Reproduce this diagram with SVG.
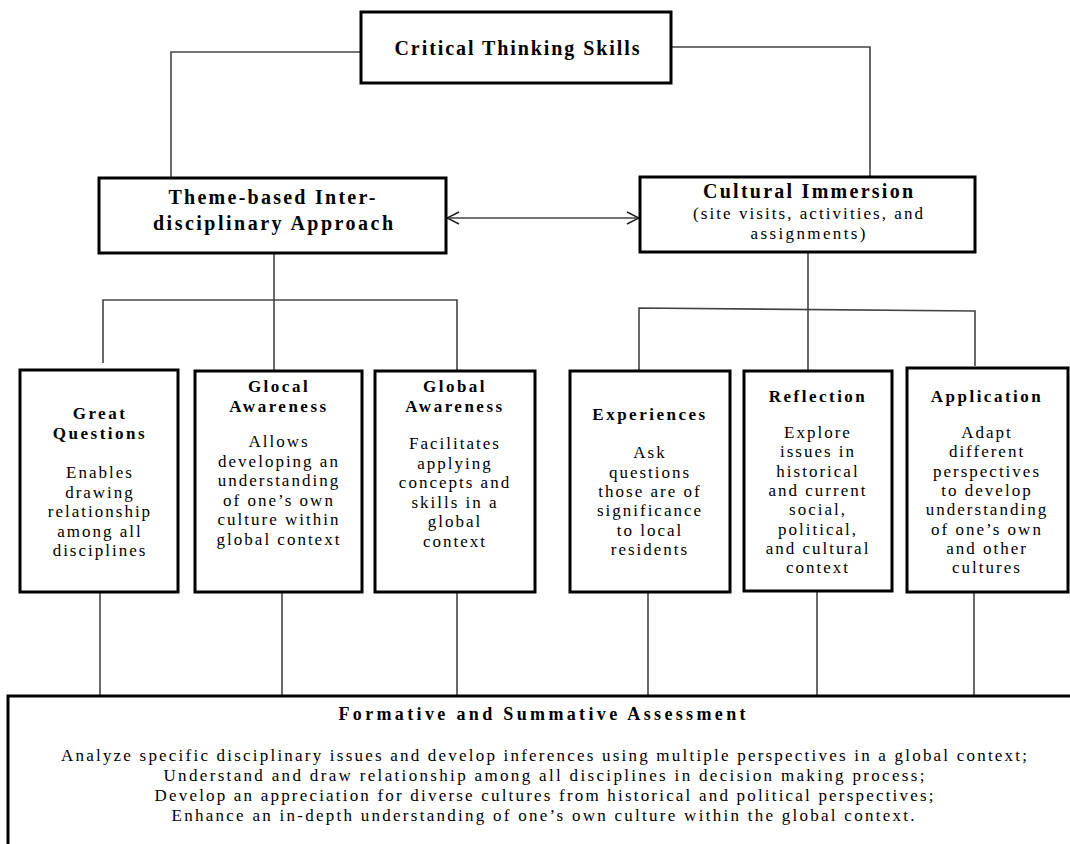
<svg xmlns="http://www.w3.org/2000/svg" width="1070" height="844" viewBox="0 0 1070 844">
<style>
.box{fill:#fff;stroke:#000;stroke-width:3}
.ln{fill:none;stroke:#444;stroke-width:1.6}
text{font-family:"Liberation Serif","Times New Roman",serif;fill:#000;text-anchor:middle}
.t{font-size:20px;font-weight:bold}
.h{font-size:17px;font-weight:bold;letter-spacing:2.5px}
.b{font-size:17px;letter-spacing:2px}
.s{font-size:17px}
</style>
<defs>
<marker id="ah" viewBox="0 0 14 14" refX="13" refY="7" markerWidth="14" markerHeight="14" markerUnits="userSpaceOnUse" orient="auto-start-reverse">
<path d="M1,1 L13,7 L1,13" fill="none" stroke="#222" stroke-width="1.5"/>
</marker>
</defs>
<rect width="1070" height="844" fill="#fff"/>
<g id="connectors">
<polyline class="ln" points="361,52 171,52 171,178"/>
<polyline class="ln" points="671,47 870,47 870,177"/>
<line class="ln" x1="447" y1="218" x2="639" y2="218" stroke="#222" marker-start="url(#ah)" marker-end="url(#ah)"/>
<line class="ln" x1="274" y1="253" x2="274" y2="300"/>
<polyline class="ln" points="103,363 103,300 457,300 457,370"/>
<line class="ln" x1="274" y1="300" x2="274" y2="370"/>
<line class="ln" x1="808" y1="252" x2="808" y2="309"/>
<polyline class="ln" points="639,370 639,308 975,311 975,366"/>
<line class="ln" x1="808" y1="309" x2="808" y2="371"/>
<line class="ln" x1="100" y1="592" x2="100" y2="696"/>
<line class="ln" x1="282" y1="592" x2="282" y2="696"/>
<line class="ln" x1="457" y1="592" x2="457" y2="696"/>
<line class="ln" x1="648" y1="592" x2="648" y2="696"/>
<line class="ln" x1="817" y1="592" x2="817" y2="696"/>
<line class="ln" x1="974" y1="592" x2="974" y2="696"/>
</g>
<g id="critical">
<rect class="box" x="361" y="12" width="310" height="71"/>
<text class="t" x="517" y="55" textLength="245">Critical Thinking Skills</text>
</g>
<g id="theme">
<rect class="box" x="99" y="178" width="347" height="75"/>
<text class="t" x="272" y="204" textLength="207">Theme-based Inter-</text>
<text class="t" x="273" y="230" textLength="240">disciplinary Approach</text>
</g>
<g id="cultural">
<rect class="box" x="640" y="177" width="335" height="75"/>
<text class="t" x="808" y="198" textLength="210">Cultural Immersion</text>
<text class="s" x="808" y="219" textLength="230">(site visits, activities, and</text>
<text class="s" x="808" y="239" textLength="115">assignments)</text>
</g>
<g id="great">
<rect class="box" x="20" y="370" width="158" height="222"/>
<text class="h" x="100" y="419">Great</text>
<text class="h" x="100" y="439">Questions</text>
<text class="b" x="100" y="478">Enables</text>
<text class="b" x="100" y="497.5">drawing</text>
<text class="b" x="100" y="517">relationship</text>
<text class="b" x="100" y="536.5">among all</text>
<text class="b" x="100" y="556">disciplines</text>
</g>
<g id="glocal">
<rect class="box" x="195" y="371" width="167" height="221"/>
<text class="h" x="279" y="392">Glocal</text>
<text class="h" x="279" y="412">Awareness</text>
<text class="b" x="279" y="447">Allows</text>
<text class="b" x="279" y="466.5">developing an</text>
<text class="b" x="279" y="486">understanding</text>
<text class="b" x="279" y="505.5">of one’s own</text>
<text class="b" x="279" y="525">culture within</text>
<text class="b" x="279" y="544.5">global context</text>
</g>
<g id="global">
<rect class="box" x="375" y="371" width="160" height="221"/>
<text class="h" x="455" y="392">Global</text>
<text class="h" x="455" y="412">Awareness</text>
<text class="b" x="455" y="449">Facilitates</text>
<text class="b" x="455" y="468.5">applying</text>
<text class="b" x="455" y="488">concepts and</text>
<text class="b" x="455" y="507.5">skills in a</text>
<text class="b" x="455" y="527">global</text>
<text class="b" x="455" y="546.5">context</text>
</g>
<g id="experiences">
<rect class="box" x="570" y="371" width="160" height="221"/>
<text class="h" x="650" y="420">Experiences</text>
<text class="b" x="650" y="458">Ask</text>
<text class="b" x="650" y="477.5">questions</text>
<text class="b" x="650" y="497">those are of</text>
<text class="b" x="650" y="516">significance</text>
<text class="b" x="650" y="535.5">to local</text>
<text class="b" x="650" y="555">residents</text>
</g>
<g id="reflection">
<rect class="box" x="744" y="371" width="148" height="220"/>
<text class="h" x="818" y="402">Reflection</text>
<text class="b" x="818" y="438">Explore</text>
<text class="b" x="818" y="457.3">issues in</text>
<text class="b" x="818" y="476.6">historical</text>
<text class="b" x="818" y="495.9">and current</text>
<text class="b" x="818" y="515.2">social,</text>
<text class="b" x="818" y="534.5">political,</text>
<text class="b" x="818" y="553.8">and cultural</text>
<text class="b" x="818" y="573">context</text>
</g>
<g id="application">
<rect class="box" x="907" y="368" width="161" height="224"/>
<text class="h" x="987" y="402">Application</text>
<text class="b" x="987" y="438">Adapt</text>
<text class="b" x="987" y="457.3">different</text>
<text class="b" x="987" y="476.6">perspectives</text>
<text class="b" x="987" y="495.9">to develop</text>
<text class="b" x="987" y="515.2">understanding</text>
<text class="b" x="987" y="534.5">of one’s own</text>
<text class="b" x="987" y="553.8">and other</text>
<text class="b" x="987" y="573">cultures</text>
</g>
<g id="assessment">
<rect class="box" x="8" y="696" width="1075" height="160"/>
<text class="t" x="542" y="720" style="font-size:18px" textLength="407">Formative and Summative Assessment</text>
<text class="s" x="544" y="761" textLength="966">Analyze specific disciplinary issues and develop inferences using multiple perspectives in a global context;</text>
<text class="s" x="544" y="781" textLength="761">Understand and draw relationship among all disciplines in decision making process;</text>
<text class="s" x="544" y="801" textLength="779">Develop an appreciation for diverse cultures from historical and political perspectives;</text>
<text class="s" x="543" y="821" textLength="743">Enhance an in-depth understanding of one’s own culture within the global context.</text>
</g>
</svg>
